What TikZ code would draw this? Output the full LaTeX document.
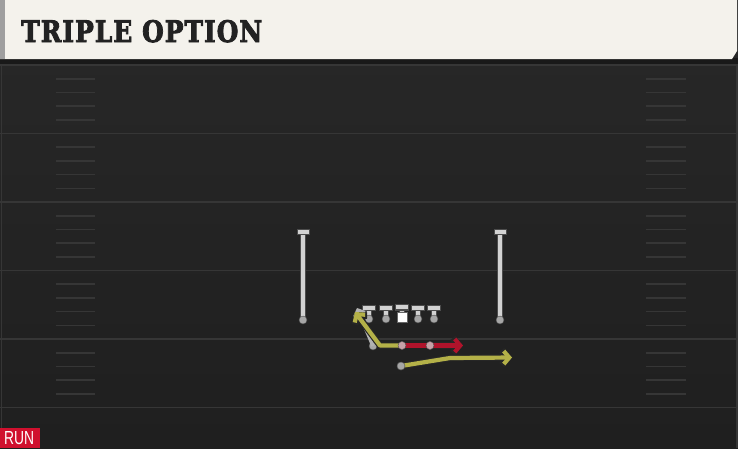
\documentclass[tikz,border=0pt]{standalone}
\usepackage{fontspec}
\usetikzlibrary{arrows.meta}
\newfontfamily\titlefont{DejaVu Serif}[FakeBold=3,LetterSpace=4]
\newfontfamily\tagfont{Liberation Sans}
\definecolor{bgtop}{HTML}{282828}
\definecolor{bgbot}{HTML}{1F1F1F}
\definecolor{fieldline}{HTML}{363636}
\definecolor{hashcol}{HTML}{363636}
\definecolor{cream}{HTML}{F4F2EC}
\definecolor{titlecol}{HTML}{222222}
\definecolor{playercol}{HTML}{D2D2D2}
\definecolor{dotcol}{HTML}{A6A6A6}
\definecolor{qbdot}{HTML}{C7A2A8}
\definecolor{routey}{HTML}{B4B148}
\definecolor{router}{HTML}{B0132B}
\definecolor{runred}{HTML}{D0102E}
\tikzset{
  yardline/.style={draw=fieldline, line width=1.8pt},
  hashmark/.style={draw=hashcol, line width=1.6pt},
  pdot/.style={circle, fill=dotcol, draw=black!70, line width=0.4pt, inner sep=0pt, minimum size=8pt},
  qdot/.style={circle, fill=qbdot, draw=black!70, line width=0.4pt, inner sep=0pt, minimum size=8pt},
  tpart/.style={fill=playercol, draw=black!70, line width=0.5pt},
  outline/.style={draw=black!85, line width=6.5pt, line join=round, -{Straight Barb[length=6pt,width=15pt,line width=6.5pt]}},
  yroute/.style={draw=routey, line width=4.2pt, line join=round, -{Straight Barb[length=5.5pt,width=13pt]}},
  rroute/.style={draw=router, line width=4.2pt, line join=round, -{Straight Barb[length=5.5pt,width=13pt]}},
  groute/.style={draw=playercol!85!black, line width=3.5pt, -{Straight Barb[length=5pt,width=11pt]}},
}
\begin{document}
\begin{tikzpicture}[x=1pt,y=-1pt]
\useasboundingbox (0,0) rectangle (738,448);
% field background
\shade[top color=bgtop, bottom color=bgbot] (0,0) rectangle (738,448);
% border lines
\draw[fieldline, line width=1.5pt] (1.5,60) -- (1.5,448);
\draw[fieldline, line width=1.5pt] (736.8,60) -- (736.8,448);
% yard lines
\foreach \yy in {65,133.5,202,270.5,339,407.5}
  \draw[yardline] (0,\yy) -- (738,\yy);
% hash marks
\foreach \k in {0,...,4}{
  \foreach \j in {1,...,4}{
    \pgfmathsetmacro{\hy}{65+68.5*\k+13.7*\j}
    \draw[hashmark] (56,\hy) -- (95,\hy);
    \draw[hashmark] (646,\hy) -- (686,\hy);
  }
}
% header
\fill[black!90] (0,58) rectangle (738,63.5);
\fill[cream] (0,0) -- (737,0) -- (737,51) -- (732,59) -- (0,59) -- cycle;
\fill[gray!75] (0,0) rectangle (5,59);
\node[anchor=base west, inner sep=0pt, text=titlecol] (title) at (21,42)
  {\resizebox{241pt}{22pt}{\titlefont\bfseries TRIPLE OPTION}};
% run tag
\node[fill=runred, anchor=south west, minimum width=40pt, minimum height=20pt, inner sep=0pt] (run) at (0,448) {};
\node[anchor=base west, inner sep=0pt, text=white] (runtext) at (4,444)
  {\resizebox{30pt}{13pt}{\tagfont RUN}};

% receivers
\foreach \nm/\xx in {wrl/303, wrr/500}{
  \filldraw[tpart] (\xx-2.6,233) rectangle (\xx+2.6,319);
  \filldraw[tpart] (\xx-6,229.5) rectangle (\xx+6,234.5);
  \node[pdot] (\nm) at (\xx,320) {};
}
% linemen
\foreach \nm/\xx in {lt/369, lg/386, c/402, rg/418, rt/434}{
  \filldraw[tpart] (\xx-2.6,309) rectangle (\xx+2.6,318);
  \filldraw[tpart] (\xx-6.5,305) rectangle (\xx+6.5,310);
  \node[pdot] (\nm) at (\xx,319) {};
}
\filldraw[fill=white, draw=black!60, line width=0.3pt] (397,312.5) rectangle (407,322);
\filldraw[tpart] (395.5,304) rectangle (408.5,309);

% backs
\node[pdot] (wb) at (373,346) {};
\node[pdot] (rb) at (401,366) {};
\coordinate (gend) at (357,308);
\draw[groute] (wb.center) -- (gend);

\node[qdot] (qb) at (402,345.5) {};
\node[qdot] (fb) at (430,345.5) {};
\coordinate (qturn) at (380,345.5);
\coordinate (qend) at (355,312);
\coordinate (fend) at (463,345.5);
\coordinate (rbend) at (450,358);
\coordinate (rend) at (512,357.5);

% routes (outlines)
\draw[outline] (fb.center) -- (fend);
\draw[outline] (qb.center) -- (qturn) -- (qend);
\draw[outline] (rb.center) -- (rbend) -- (rend);
% routes
\draw[rroute] (qb.center) -- (fend);
\draw[yroute] (qb.center) -- (qturn) -- (qend);
\draw[yroute] (rb.center) -- (rbend) -- (rend);
% dots on top
\node[qdot] at (qb) {};
\node[qdot] at (fb) {};
\node[pdot] at (rb) {};
\end{tikzpicture}
\end{document}
